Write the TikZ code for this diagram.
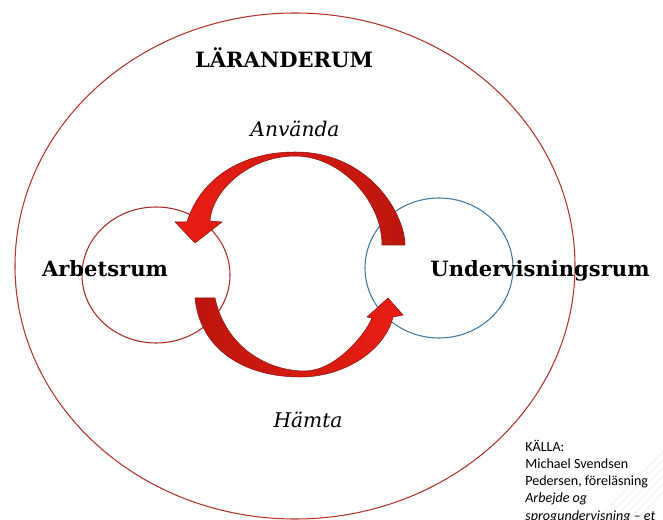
\documentclass[tikz,border=0pt]{standalone}
\usepackage{fontspec}
\setmainfont{DejaVu Serif}
\newfontfamily\sourcefont{Carlito}

\definecolor{outerred}{RGB}{180,52,44}
\definecolor{workred}{RGB}{168,44,38}
\definecolor{teachblue}{RGB}{62,122,160}
\definecolor{brightred}{RGB}{234,30,20}
\definecolor{darkred}{RGB}{188,22,14}
\definecolor{arrowedge}{RGB}{140,20,14}

\begin{document}
\begin{tikzpicture}[x=0.02cm,y=-0.02cm,
	room/.style={line width=0.6pt},
	roomname/.style={font=\fontsize{12}{14}\selectfont\bfseries, inner sep=0pt, anchor=base},
	verb/.style={font=\fontsize{11.5}{14}\selectfont\itshape, inner sep=0pt, anchor=base},
	bigarrow/.style={draw=arrowedge, line width=0.3pt, line join=round}]
	\useasboundingbox (0,0) rectangle (663,520);
	\clip (0,0) rectangle (663,520);

	% faint lines of the slide background
	\foreach \d in {0,8,...,40}
		\draw[black!7, line width=0.3pt] (596+\d,520) -- (663,452+\d);

	% the rooms
	\draw[room, outerred] (295,266) ellipse [x radius=280, y radius=253];
	\draw[room, workred] (156,275) ellipse [x radius=74, y radius=68];
	\draw[room, teachblue] (439,268) ellipse [x radius=74, y radius=70];

	% use: from the teaching room to the work room
	\shadedraw[bigarrow, left color=brightred, right color=darkred]
		(405,245) .. controls (405,215) and (370,152) .. (295,152)
		.. controls (240,152) and (200,180) .. (187,222)
		-- (175,222) -- (195,243) -- (222,222) -- (210,221)
		.. controls (212,190) and (250,156) .. (295,156)
		.. controls (340,156) and (382,200) .. (382,245) -- cycle;

	% fetch: from the work room to the teaching room
	\shadedraw[bigarrow, left color=darkred, right color=brightred]
		(195,298) .. controls (200,350) and (245,377) .. (300,377)
		.. controls (345,377) and (385,350) .. (393,317)
		-- (403,315) -- (388,298) -- (367,317) -- (372,318)
		.. controls (365,335) and (335,371) .. (305,371)
		.. controls (265,371) and (225,345) .. (215,298) -- cycle;

	\node[roomname] (learn) at (284,68) {LÄRANDERUM};
	\node[roomname] (work) at (105,277) {Arbetsrum};
	\node[roomname] (teach) at (540,277) {Undervisningsrum};
	\node[verb] (use) at (295,137) {Använda};
	\node[verb] (fetch) at (308,427) {Hämta};

	% the base of this node is its last line
	\node[font=\sourcefont\fontsize{8}{9.7}\selectfont, align=left, inner sep=0pt, anchor=base west]
		(source) at (525,520) {KÄLLA:\\Michael Svendsen\\Pedersen, föreläsning\\\textit{Arbejde og}\\\textit{sprogundervisning – et}};
\end{tikzpicture}
\end{document}
